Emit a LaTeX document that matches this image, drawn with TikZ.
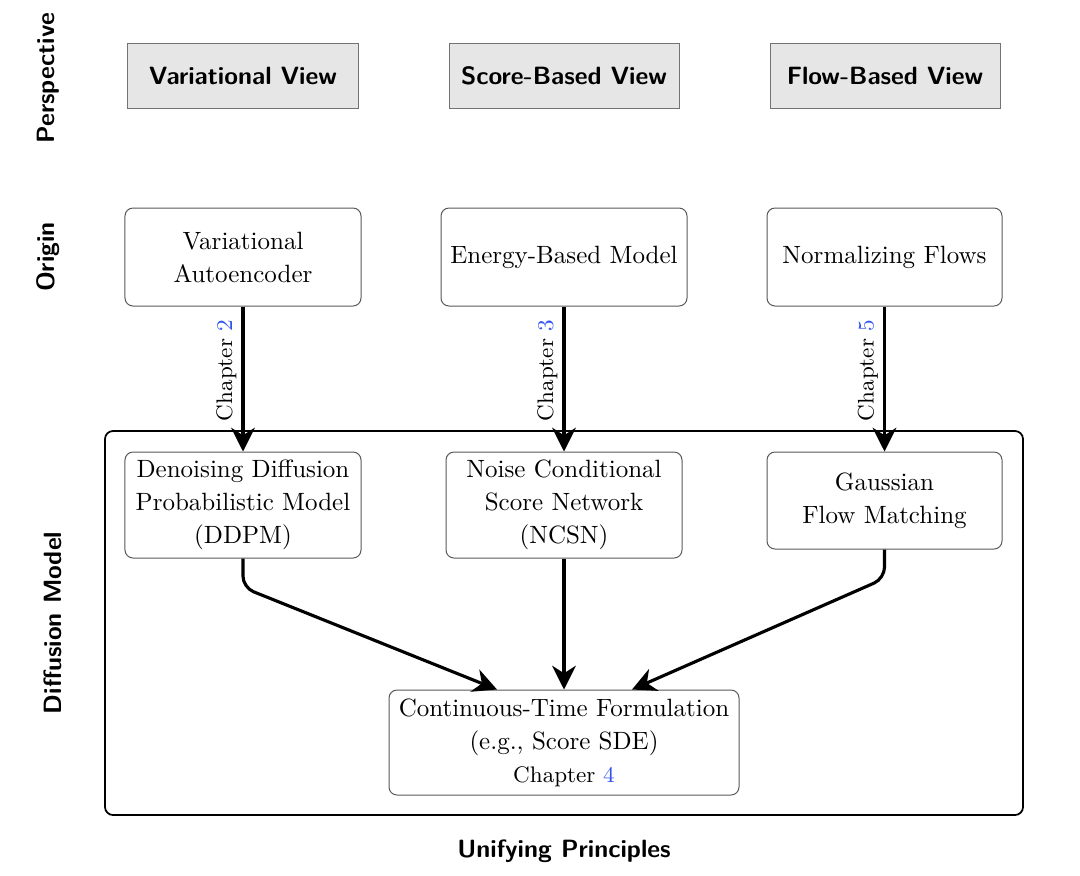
\documentclass[tikz,border=0pt]{standalone}
\usetikzlibrary{arrows.meta,calc}
\definecolor{hdrfill}{HTML}{E6E6E6}
\definecolor{chblue}{HTML}{3355EE}
\begin{document}
\begin{tikzpicture}[x=0.4pt,y=-0.4pt,
 hdr/.style={draw=black!55, fill=hdrfill, minimum width=92pt, minimum height=26pt, font=\sffamily\bfseries, inner sep=0pt},
 orig/.style={draw=black!65, rounded corners=3.2pt, align=center, inner sep=0pt, fill=white, font=\fontsize{10}{13.2}\selectfont},
 lab/.style={font=\sffamily\bfseries, rotate=90},
 arr/.style={-{Stealth[length=9.5pt,width=9.5pt,inset=3pt]}, line width=1.25pt, rounded corners=4.5pt},
 chlab/.style={pos=0.44, rotate=90, above, inner sep=2pt, font=\small},
]
\useasboundingbox (0,0) rectangle (1080,875);
% frame
\draw[rounded corners=3.2pt, line width=0.7pt] (105,431) rectangle (1023,815);
% headers
\node[hdr] (hv) at (243,75.5) {Variational View};
\node[hdr] (hs) at (564,75.5) {Score-Based View};
\node[hdr] (hf) at (885,75.5) {Flow-Based View};
% origins
\node[orig, minimum width=94.4pt, minimum height=39.2pt] (vae) at (243,257) {Variational\\Autoencoder};
\node[orig, minimum width=98.4pt, minimum height=39.2pt] (ebm) at (564,257) {Energy-Based Model};
\node[orig, minimum width=94pt, minimum height=39.2pt] (nf) at (884.5,257) {Normalizing Flows};
% diffusion models
\node[orig, minimum width=94.4pt, minimum height=42.4pt] (ddpm) at (243,505) {Denoising Diffusion\\Probabilistic Model\\(DDPM)};
\node[orig, minimum width=94.4pt, minimum height=42.4pt] (ncsn) at (564,505) {Noise Conditional\\Score Network\\(NCSN)};
\node[orig, minimum width=94pt, minimum height=38.8pt] (gfm) at (884.5,500.5) {Gaussian\\Flow Matching};
\node[orig, minimum width=140pt, minimum height=42pt] (ctf) at (564,742.5) {Continuous-Time Formulation\\(e.g., Score SDE)\\{\small Chapter \textcolor{chblue}{4}}};
% arrows
\draw[arr] (vae) -- node[chlab] {Chapter \textcolor{chblue}{2}} (ddpm);
\draw[arr] (ebm) -- node[chlab] {Chapter \textcolor{chblue}{3}} (ncsn);
\draw[arr] (nf) -- node[chlab] {Chapter \textcolor{chblue}{5}} (gfm);
\draw[arr] (ddpm.south) -- ($(ddpm.south)+(0,29)$) -- ([xshift=-26.8pt]ctf.north);
\draw[arr] (ncsn) -- (ctf);
\draw[arr] (gfm.south) -- ($(gfm.south)+(0,29)$) -- ([xshift=27.2pt]ctf.north);
% side labels
\node[lab] (lp) at (48,78) {Perspective};
\node[lab] (lo) at (48,257) {Origin};
\node[lab] (ld) at (53,623) {Diffusion Model};
\node[font=\sffamily\bfseries] (lu) at (564,851) {Unifying Principles};
\end{tikzpicture}
\end{document}
